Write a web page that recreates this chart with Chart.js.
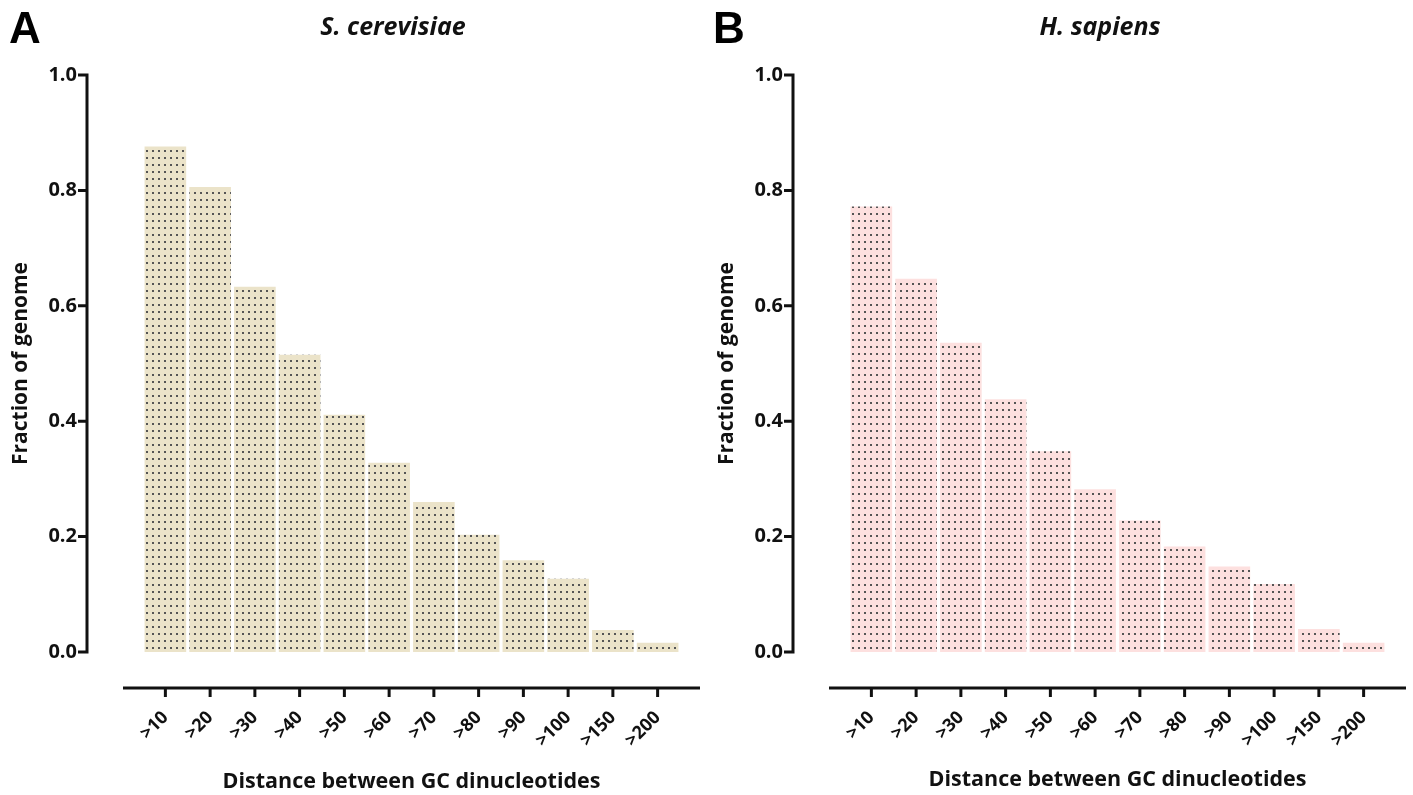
<!DOCTYPE html>
<html>
<head>
<meta charset="utf-8">
<script src="https://cdn.jsdelivr.net/npm/chart.js"></script>
<style>
  body { margin: 0; background: #fff; }
  #wrap { position: relative; width: 1413px; height: 795px; overflow: hidden; }
  .panel { position: absolute; top: 0; width: 707px; height: 795px; }
  .letter { position: absolute; top: 3px; font: bold 44px "Liberation Sans", Arial, sans-serif; color: #000; }
  .title { position: absolute; top: 8px; font: italic bold 25px "Open Sans", sans-serif; color: #111; transform: translateX(-50%); white-space: nowrap; }
</style>
</head>
<body>
<div id="wrap">
  <div class="panel" style="left:0"><canvas id="chartA" width="707" height="795"></canvas></div>
  <div class="panel" style="left:706px"><canvas id="chartB" width="707" height="795"></canvas></div>
  <div class="letter" style="left:9px">A</div>
  <div class="letter" style="left:713px">B</div>
  <div class="title" style="left:393px">S. cerevisiae</div>
  <div class="title" style="left:1100px">H. sapiens</div>
</div>
<script>
const categories = ['>10', '>20', '>30', '>40', '>50', '>60', '>70', '>80', '>90', '>100', '>150', '>200'];
// fraction of genome
const yeastFraction = [0.876, 0.806, 0.633, 0.515, 0.411, 0.328, 0.26, 0.203, 0.159, 0.127, 0.038, 0.016];
const humanFraction = [0.772, 0.647, 0.536, 0.438, 0.348, 0.282, 0.228, 0.183, 0.148, 0.118, 0.04, 0.016];
const yTicks = [0, 0.2, 0.4, 0.6, 0.8, 1.0];

function dotPattern(base) {
  const c = document.createElement('canvas');
  c.width = 6; c.height = 7;
  const g = c.getContext('2d');
  g.fillStyle = base;
  g.fillRect(0, 0, 6, 7);
  g.fillStyle = '#555';
  g.fillRect(2, 3, 2, 2);
  return g.createPattern(c, 'repeat');
}

// prism-style detached axes
const detachedAxes = {
  id: 'detachedAxes',
  afterDraw(chart) {
    const { ctx, chartArea: a, scales: { x, y } } = chart;
    ctx.save();
    ctx.strokeStyle = '#111';
    ctx.lineWidth = 3;
    ctx.beginPath();
    const yx = a.left - 56;
    ctx.moveTo(yx, y.getPixelForValue(1) - 1.5);
    ctx.lineTo(yx, y.getPixelForValue(0) + 1.5);
    y.ticks.forEach(t => {
      const py = y.getPixelForValue(t.value);
      ctx.moveTo(yx - 9, py);
      ctx.lineTo(yx, py);
    });
    const xy = a.bottom + 36;
    ctx.moveTo(a.left - 20, xy);
    ctx.lineTo(a.right + 20, xy);
    x.ticks.forEach((t, i) => {
      const px = x.getPixelForTick(i);
      ctx.moveTo(px, xy);
      ctx.lineTo(px, xy + 9);
    });
    ctx.stroke();
    ctx.restore();
  }
};

function makeChart(id, values, base, bottomPad) {
  return new Chart(document.getElementById(id), {
    type: 'bar',
    data: {
      labels: categories,
      datasets: [{ data: values, backgroundColor: dotPattern(base), borderWidth: 0 }]
    },
    options: {
      responsive: false,
      animation: false,
      layout: { padding: { top: 75, left: 8, right: 27, bottom: bottomPad } },
      plugins: { legend: { display: false }, tooltip: { enabled: false } },
      datasets: { bar: { categoryPercentage: 1, barPercentage: 0.93 } },
      scales: {
        x: {
          grid: { display: false, drawTicks: false },
          border: { display: false },
          ticks: {
            color: '#111', font: { family: 'Open Sans', size: 18, weight: 'bold' },
            minRotation: 45, maxRotation: 45, padding: 55, labelOffset: 0
          },
          title: {
            display: true, text: 'Distance between GC dinucleotides', color: '#111',
            font: { family: 'Open Sans', size: 21.5, weight: 'bold' }, padding: { top: 4, bottom: 0 }
          },
          afterFit(s) { s.height = 143 - bottomPad; s.paddingLeft = 0; s.paddingRight = 0; }
        },
        y: {
          min: 0, max: 1,
          afterBuildTicks(s) { s.ticks = yTicks.map(v => ({ value: v })); },
          grid: { display: false, drawTicks: false },
          border: { display: false },
          ticks: {
            color: '#111', font: { family: 'Open Sans', size: 20, weight: 'bold' },
            padding: 66, callback: v => v.toFixed(1)
          },
          title: {
            display: true, text: 'Fraction of genome', color: '#111',
            font: { family: 'Open Sans', size: 21, weight: 'bold' }, padding: { top: 0, bottom: 0 }
          },
          afterFit(s) { s.width = 135; s.paddingTop = 0; s.paddingBottom = 0; }
        }
      }
    },
    plugins: [detachedAxes]
  });
}

makeChart('chartA', yeastFraction, '#ebe3c9', 0);
makeChart('chartB', humanFraction, '#fde0df', 2);
</script>
</body>
</html>
